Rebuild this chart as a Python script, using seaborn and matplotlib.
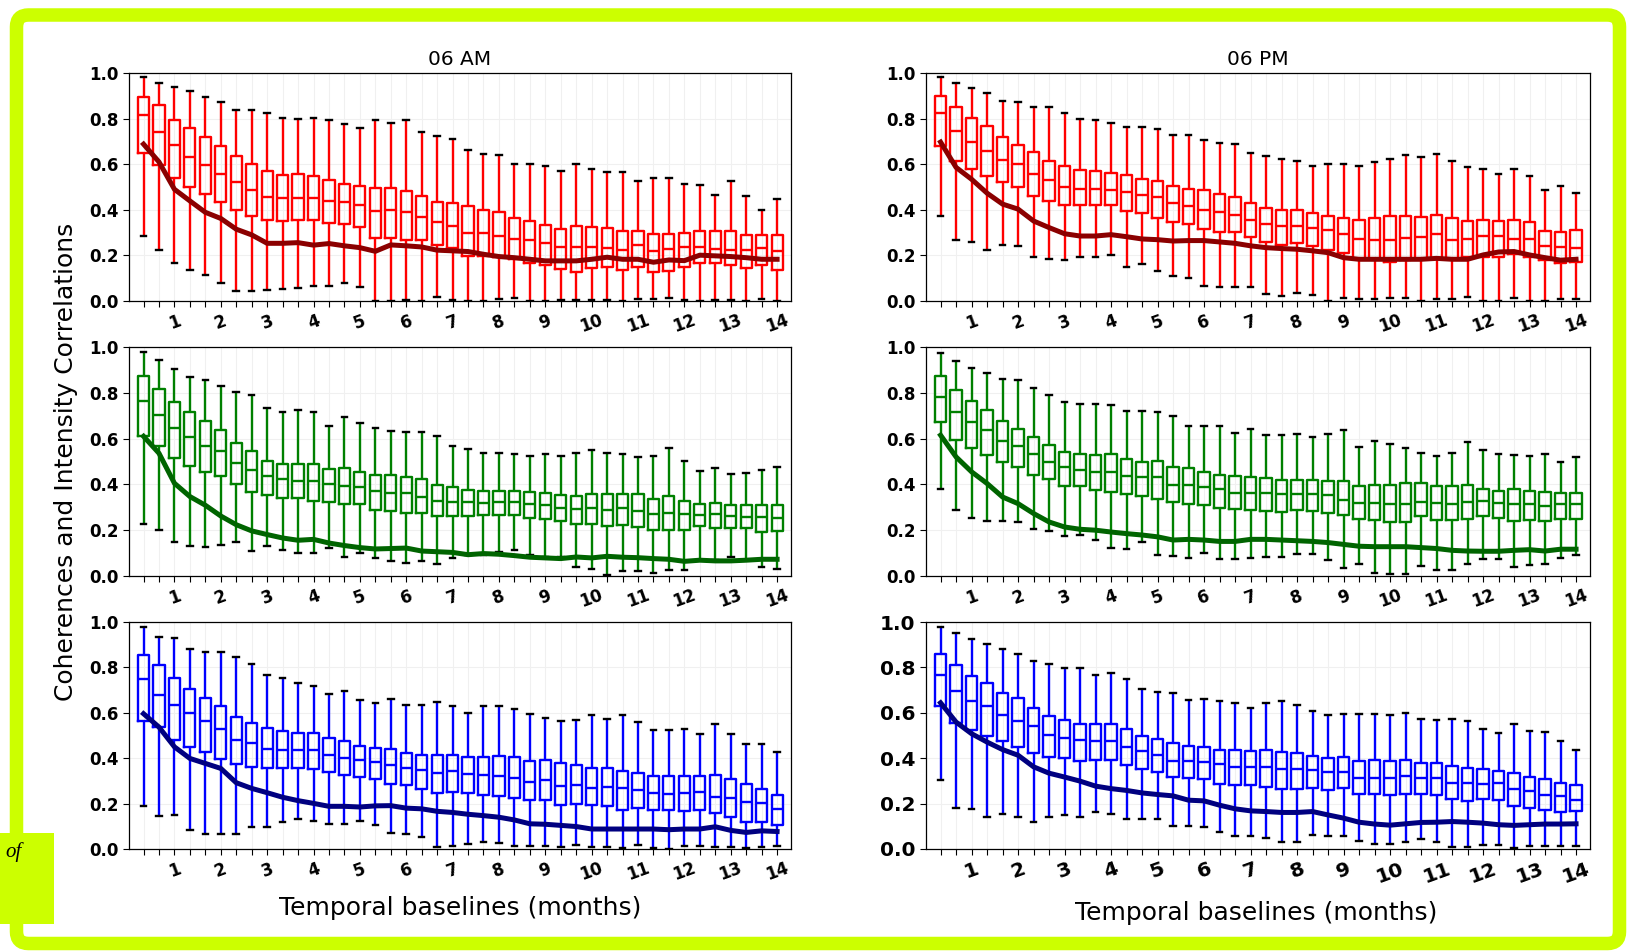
import numpy as np
import pandas as pd
import matplotlib
matplotlib.use("Agg")
import matplotlib.pyplot as plt
import matplotlib.patches as mpatches
from matplotlib.transforms import IdentityTransform
import seaborn as sns

# ---------------- data ----------------
baseline_months = np.arange(1, 43) / 3.0
month_ticks = list(range(1, 15))
y_ticks = [0.0, 0.2, 0.4, 0.6, 0.8, 1.0]

# AM, row 1 (red)
am1_hi = [.984,.958,.940,.922,.893,.871,.837,.837,.826,.804,.798,.804,.796,.777,.760,.796,.782,.796,.741,.725,.712,.662,.644,.640,.603,.603,.592,.571,.603,.580,.564,.567,.527,.540,.540,.514,.507,.467,.527,.461,.398,.448]
am1_q3 = [.893,.858,.795,.758,.719,.679,.635,.603,.571,.553,.558,.549,.531,.514,.505,.495,.495,.483,.461,.436,.430,.416,.400,.391,.366,.350,.334,.316,.329,.324,.322,.309,.309,.293,.296,.300,.305,.305,.305,.290,.290,.290]
am1_med = [.814,.742,.684,.630,.596,.556,.523,.486,.457,.451,.451,.451,.438,.435,.423,.394,.397,.391,.367,.348,.331,.299,.297,.284,.272,.268,.255,.236,.236,.236,.233,.225,.246,.221,.227,.236,.237,.227,.223,.223,.233,.221]
am1_q1 = [.647,.597,.540,.498,.469,.436,.397,.373,.354,.351,.354,.354,.341,.337,.323,.278,.278,.269,.269,.247,.234,.198,.198,.192,.186,.168,.157,.142,.127,.146,.148,.138,.151,.129,.133,.151,.165,.165,.157,.143,.157,.136]
am1_lo = [.286,.224,.166,.135,.114,.081,.044,.042,.048,.054,.059,.066,.066,.079,.063,0,0,.004,0,.019,.004,0,0,.009,.015,0,0,.003,.003,.003,.003,0,.009,.009,.015,.006,0,.003,.003,0,.009,0]
am1_line = [.688,.610,.490,.439,.389,.362,.315,.290,.253,.253,.256,.245,.252,.242,.234,.218,.246,.242,.237,.223,.220,.217,.205,.195,.190,.183,.176,.176,.176,.183,.192,.183,.183,.170,.180,.177,.201,.198,.195,.190,.183,.183]

# PM, row 1 (red)
pm1_hi = [.984,.958,.936,.913,.877,.873,.849,.849,.826,.798,.792,.782,.764,.764,.756,.729,.729,.707,.694,.690,.649,.638,.621,.612,.594,.603,.603,.594,.609,.621,.640,.633,.644,.615,.588,.580,.559,.580,.550,.487,.505,.473]
pm1_q3 = [.898,.849,.801,.769,.719,.684,.652,.615,.590,.574,.571,.560,.553,.534,.525,.505,.493,.485,.471,.454,.430,.410,.401,.397,.384,.375,.366,.356,.362,.372,.373,.370,.378,.362,.349,.356,.352,.356,.346,.308,.303,.310]
pm1_med = [.825,.746,.698,.657,.618,.599,.556,.531,.502,.493,.490,.487,.476,.467,.457,.429,.417,.400,.391,.379,.356,.338,.331,.327,.322,.310,.296,.271,.268,.268,.277,.281,.293,.268,.274,.287,.286,.274,.271,.242,.237,.233]
pm1_q1 = [.682,.615,.581,.548,.524,.498,.461,.439,.422,.420,.420,.420,.394,.384,.365,.348,.337,.316,.303,.303,.280,.259,.247,.256,.240,.225,.211,.183,.183,.173,.179,.183,.186,.183,.195,.195,.195,.205,.195,.180,.168,.173]
pm1_lo = [.372,.267,.258,.224,.245,.240,.192,.183,.179,.192,.195,.201,.151,.161,.130,.110,.100,.066,.063,.063,.063,.029,.022,.035,.025,0,.013,.009,.009,.013,.013,0,.009,.009,.019,0,0,.013,0,0,.009,.009]
pm1_line = [.697,.586,.534,.473,.425,.403,.351,.322,.295,.285,.285,.291,.282,.272,.269,.263,.265,.265,.259,.253,.242,.234,.230,.227,.220,.212,.190,.183,.183,.183,.183,.183,.187,.183,.183,.202,.215,.217,.202,.190,.179,.183]

# AM, row 2 (green)
am2_hi = [.978,.943,.902,.869,.854,.828,.802,.789,.735,.717,.726,.717,.657,.694,.669,.645,.633,.628,.628,.611,.566,.554,.538,.539,.531,.522,.534,.526,.536,.549,.539,.531,.518,.522,.557,.503,.458,.472,.445,.449,.464,.477]
am2_q3 = [.873,.818,.760,.716,.676,.636,.582,.544,.504,.491,.491,.491,.466,.471,.456,.439,.439,.431,.423,.398,.388,.376,.373,.373,.372,.367,.364,.354,.351,.359,.358,.358,.356,.338,.348,.328,.315,.319,.309,.309,.309,.309]
am2_med = [.765,.703,.646,.605,.568,.545,.493,.464,.436,.424,.413,.416,.400,.394,.390,.373,.363,.363,.346,.327,.321,.321,.319,.321,.321,.316,.309,.299,.292,.297,.289,.296,.286,.270,.276,.270,.268,.269,.264,.258,.258,.255]
am2_q1 = [.611,.567,.515,.481,.452,.436,.401,.366,.353,.340,.340,.327,.321,.315,.315,.290,.283,.277,.277,.261,.261,.261,.267,.267,.267,.254,.247,.238,.228,.228,.219,.222,.214,.203,.203,.203,.217,.211,.211,.211,.190,.195]
am2_lo = [.227,.200,.147,.133,.128,.137,.147,.111,.133,.115,.102,.099,.124,.085,.102,.080,.064,.058,.067,.054,.080,.093,.093,.106,.115,.093,.083,.083,.039,.029,.006,.022,.022,.013,.026,.026,.070,.070,.083,.070,.039,.029]
am2_line = [.610,.536,.405,.347,.309,.262,.224,.197,.181,.166,.156,.160,.144,.133,.124,.118,.120,.122,.109,.106,.103,.093,.098,.095,.089,.082,.079,.076,.083,.079,.086,.082,.080,.076,.073,.064,.069,.066,.066,.069,.073,.073]

# PM, row 2 (green)
pm2_hi = [.974,.940,.907,.886,.860,.854,.819,.789,.761,.753,.753,.748,.721,.721,.717,.697,.657,.657,.657,.624,.640,.617,.614,.622,.609,.622,.637,.564,.589,.577,.557,.538,.525,.538,.583,.549,.533,.527,.522,.531,.497,.519]
pm2_q3 = [.873,.812,.764,.725,.679,.644,.605,.570,.542,.531,.528,.532,.512,.496,.503,.478,.471,.456,.443,.436,.434,.430,.421,.421,.418,.415,.415,.392,.399,.398,.404,.404,.395,.395,.397,.382,.372,.382,.372,.366,.364,.364]
pm2_med = [.782,.716,.672,.637,.588,.567,.534,.500,.477,.464,.452,.452,.438,.432,.431,.399,.399,.389,.379,.364,.364,.364,.360,.356,.356,.352,.331,.319,.319,.316,.316,.324,.319,.316,.321,.326,.318,.313,.313,.307,.314,.314]
pm2_q1 = [.672,.595,.561,.528,.500,.478,.443,.423,.391,.391,.376,.367,.357,.351,.336,.322,.313,.312,.297,.292,.287,.283,.281,.287,.283,.276,.268,.248,.243,.236,.236,.261,.243,.243,.248,.261,.255,.238,.245,.238,.248,.248]
pm2_lo = [.378,.289,.254,.239,.239,.235,.206,.198,.174,.178,.159,.124,.120,.147,.090,.087,.080,.102,.074,.074,.080,.083,.083,.095,.098,.068,.035,.054,.015,.010,.009,.044,.026,.025,.054,.074,.076,.039,.048,.054,.080,.093]
pm2_line = [.615,.520,.455,.404,.345,.316,.273,.236,.214,.204,.200,.192,.185,.179,.171,.157,.160,.157,.151,.151,.160,.160,.157,.154,.151,.146,.138,.130,.128,.128,.128,.124,.120,.112,.109,.108,.108,.112,.115,.109,.117,.117]

# AM, row 3 (blue)
am3_hi = [.977,.936,.931,.879,.866,.866,.847,.815,.766,.753,.731,.718,.682,.695,.655,.642,.661,.636,.633,.647,.629,.597,.631,.631,.615,.593,.575,.562,.569,.590,.572,.590,.558,.523,.523,.528,.505,.550,.505,.461,.461,.426]
am3_q3 = [.854,.810,.753,.705,.664,.632,.580,.556,.534,.520,.512,.512,.489,.477,.455,.445,.441,.425,.416,.413,.413,.404,.404,.409,.404,.387,.391,.380,.369,.355,.355,.344,.336,.323,.323,.320,.320,.325,.307,.285,.264,.238]
am3_med = [.750,.680,.635,.597,.562,.530,.482,.467,.442,.438,.435,.435,.416,.399,.391,.384,.368,.359,.349,.337,.344,.331,.324,.321,.314,.296,.304,.276,.280,.270,.273,.267,.260,.245,.241,.248,.250,.231,.223,.206,.202,.175]
am3_q1 = [.565,.536,.482,.450,.426,.396,.375,.362,.359,.355,.358,.353,.339,.328,.318,.309,.288,.280,.266,.248,.253,.248,.238,.234,.225,.215,.215,.194,.199,.193,.190,.174,.182,.174,.174,.166,.174,.159,.143,.121,.117,.105]
am3_lo = [.188,.147,.150,.085,.067,.067,.067,.095,.099,.120,.134,.124,.111,.111,.124,.107,.070,.066,.054,.009,.013,.022,.029,.025,.015,.015,.013,.009,.016,.009,.009,.003,.019,.004,.001,.015,.015,.009,.009,.004,.009,.015]
am3_line = [.596,.537,.450,.399,.377,.355,.292,.267,.248,.228,.213,.201,.188,.188,.185,.190,.191,.180,.177,.166,.161,.153,.147,.140,.128,.111,.109,.104,.099,.088,.088,.088,.088,.088,.085,.088,.088,.098,.082,.073,.080,.077]

# PM, row 3 (blue)
pm3_hi = [.980,.953,.927,.905,.879,.860,.826,.815,.797,.797,.768,.775,.750,.707,.692,.688,.655,.661,.653,.642,.620,.641,.654,.634,.610,.590,.596,.596,.596,.590,.597,.574,.569,.574,.562,.527,.513,.552,.518,.514,.477,.436]
pm3_q3 = [.859,.810,.761,.730,.686,.664,.623,.588,.569,.552,.552,.549,.528,.498,.486,.467,.454,.450,.437,.435,.431,.437,.426,.425,.410,.400,.404,.387,.391,.388,.391,.377,.377,.364,.356,.353,.345,.334,.317,.307,.291,.283]
pm3_med = [.768,.696,.654,.629,.591,.562,.542,.504,.488,.482,.477,.474,.448,.431,.413,.388,.388,.385,.375,.362,.362,.362,.353,.353,.347,.340,.340,.314,.314,.314,.321,.311,.311,.289,.289,.286,.289,.266,.255,.238,.234,.216]
pm3_q1 = [.632,.556,.523,.498,.474,.451,.425,.407,.399,.388,.394,.391,.369,.352,.340,.318,.311,.307,.286,.282,.282,.274,.266,.266,.269,.261,.267,.244,.244,.238,.244,.244,.238,.219,.213,.220,.216,.190,.180,.172,.162,.166]
pm3_lo = [.304,.182,.178,.143,.155,.143,.120,.139,.150,.143,.161,.156,.134,.134,.134,.102,.102,.098,.076,.058,.058,.050,.031,.031,.063,.058,.058,.036,.022,.022,.031,.044,.032,.009,.010,.019,.019,.004,.015,.015,.015,.012]
pm3_line = [.644,.559,.508,.471,.438,.413,.362,.334,.317,.299,.277,.266,.258,.247,.240,.234,.215,.212,.193,.177,.168,.165,.161,.161,.165,.150,.136,.118,.110,.105,.111,.117,.118,.121,.118,.114,.107,.104,.107,.110,.110,.111]

titles = ["06 AM", "06 PM"]
ylabel_text = "Coherences and Intensity Correlations"
xlabel_text = "Temporal baselines (months)"

# ---------------- figure ----------------
W, H = 1627, 952
fig = plt.figure(figsize=(W / 100, H / 100), dpi=100)
fig.patch.set_facecolor("white")

def frac_rect(left, top, right, bottom):
    return [left / W, 1 - bottom / H, (right - left) / W, (bottom - top) / H]

col_x = [(129, 791), (926, 1590)]
row_y = [(73, 301), (347, 576), (622, 849)]

panel_specs = [
    (0, 0, am1_lo, am1_q1, am1_med, am1_q3, am1_hi, am1_line, "#ff0000", "#8b0000"),
    (0, 1, pm1_lo, pm1_q1, pm1_med, pm1_q3, pm1_hi, pm1_line, "#ff0000", "#8b0000"),
    (1, 0, am2_lo, am2_q1, am2_med, am2_q3, am2_hi, am2_line, "#008000", "#006400"),
    (1, 1, pm2_lo, pm2_q1, pm2_med, pm2_q3, pm2_hi, pm2_line, "#008000", "#006400"),
    (2, 0, am3_lo, am3_q1, am3_med, am3_q3, am3_hi, am3_line, "#0000ff", "#000080"),
    (2, 1, pm3_lo, pm3_q1, pm3_med, pm3_q3, pm3_hi, pm3_line, "#0000ff", "#000080"),
]

for (r, c, lo, q1, med, q3, hi, line, col, lcol) in panel_specs:
    x0, x1 = col_x[c]
    y0, y1 = row_y[r]
    ax = fig.add_axes(frac_rect(x0, y0, x1, y1))
    rows = []
    for xm, a, b, m, d, e in zip(baseline_months, lo, q1, med, q3, hi):
        for v in (a, b, m, d, e):
            rows.append((xm, v))
    df = pd.DataFrame(rows, columns=["month", "value"])
    sns.boxplot(data=df, x="month", y="value", native_scale=True, whis=(0, 100),
                fill=False, color=col, linewidth=1.7, width=0.72,
                capprops={"color": "black"}, showfliers=False, ax=ax)
    sns.lineplot(x=baseline_months, y=line, color=lcol, lw=3.6, ax=ax, zorder=5)

    big = (r == 2 and c == 1)
    fs = 14.5 if big else 12
    ax.set_xlim(0.02, 14.3)
    ax.set_ylim(0, 1.0)
    ax.set_xticks(month_ticks)
    ax.set_xticks(baseline_months, minor=True)
    ax.set_xticklabels([str(m) for m in month_ticks], rotation=20,
                       fontweight="bold", fontsize=fs)
    ax.set_yticks(y_ticks)
    ax.set_yticklabels([f"{v:.1f}" for v in y_ticks], fontweight="bold", fontsize=fs)
    ax.tick_params(which="both", length=4, width=0.8, direction="out", colors="black")
    ax.grid(True, which="both", color="#f0f0f0", lw=0.8)
    ax.set_axisbelow(True)
    ax.set_xlabel("")
    ax.set_ylabel("")
    for sp in ax.spines.values():
        sp.set_color("black")
        sp.set_linewidth(0.9)
    if r == 0:
        ax.set_title(titles[c], fontsize=14.5, pad=6)

fig.text(66 / W, 1 - 462 / H, ylabel_text, rotation=90, ha="center", va="center", fontsize=18)
fig.text(460 / W, 1 - 908 / H, xlabel_text, ha="center", va="center", fontsize=18)
fig.text(1256 / W, 1 - 913 / H, xlabel_text, ha="center", va="center", fontsize=18)

# frame around the page
lime = "#ccff00"
border = mpatches.FancyBboxPatch((16.5, H - 943.5), 1619.5 - 16.5, 943.5 - 15.0,
                                 boxstyle="round,pad=0,rounding_size=12",
                                 transform=IdentityTransform(), fill=False,
                                 ec=lime, lw=13.5 * 0.72, zorder=10)
fig.add_artist(border)
tag = mpatches.Rectangle((0, H - 924), 54, 924 - 833, transform=IdentityTransform(),
                         fc=lime, ec="none", zorder=11)
fig.add_artist(tag)
fig.text(5 / W, 1 - 852 / H, "of", fontsize=15, style="italic",
         family="Liberation Serif", ha="left", va="center", zorder=12)

fig.savefig("out.png", dpi=100, facecolor="white")
